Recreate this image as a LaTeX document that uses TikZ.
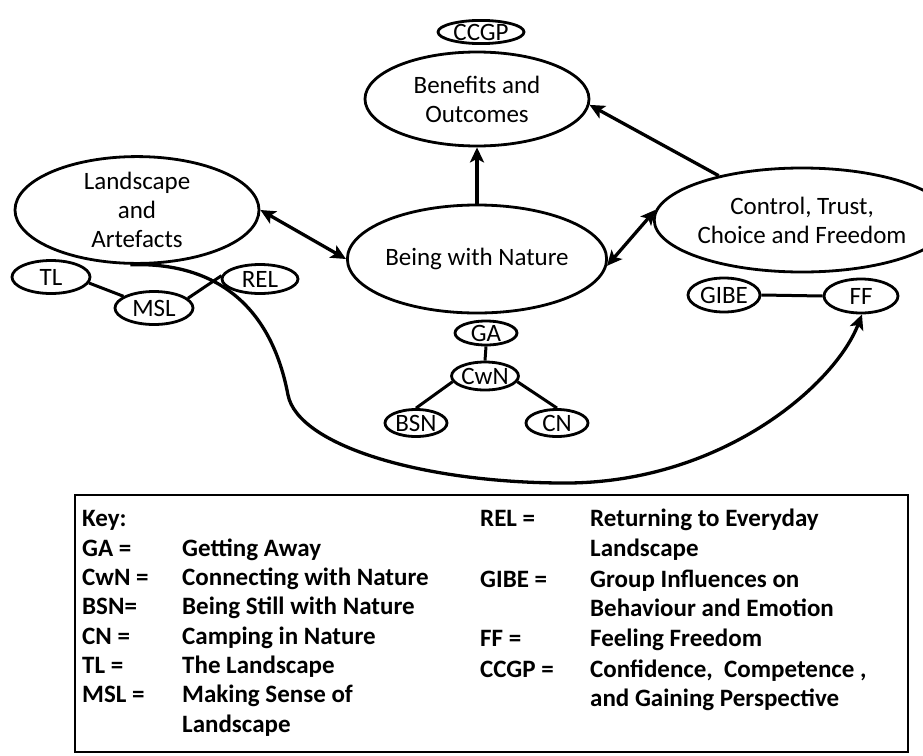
\documentclass[tikz,border=0pt]{standalone}
\usepackage{fontspec}
\setmainfont{Carlito}
\usetikzlibrary{shapes.geometric,arrows.meta}
\begin{document}
\begin{tikzpicture}[x=1pt,y=-1pt,
  every node/.style={font=\fontsize{25}{29}\selectfont},
  oval/.style={ellipse,draw,line width=2.8pt,inner sep=0pt,align=center},
  link/.style={line width=3pt},
  tip/.tip={Stealth[length=15pt,width=14pt,inset=3.5pt]},
  arr/.style={line width=3.3pt,-tip},
  darr/.style={line width=3.3pt,tip-tip},
  keytxt/.style={anchor=west,inner sep=0pt,text height=16pt,text depth=5pt,
    font=\fontsize{25}{29}\selectfont\bfseries}]
\useasboundingbox (0,0) rectangle (923,755);

% main concepts
\node[oval,minimum width=224pt,minimum height=94pt] (ben) at (477,99) {Benefits and\\Outcomes};
\node[oval,minimum width=86pt,minimum height=22pt] (ccgp) at (481,32) {CCGP};
\node[oval,minimum width=244pt,minimum height=104pt] (land) at (137,210) {Landscape\\and\\Artefacts};
\node[oval,minimum width=220pt,minimum height=108pt] (bwn) at (477,259) {Being with Nature};
\node[oval,minimum width=238pt,minimum height=104pt] (ctf) at (802,220) {Control, Trust,\\Choice and Freedom};

% sub-themes
\node[oval,minimum width=78pt,minimum height=33pt] (tl) at (51,277) {TL};
\node[oval,minimum width=78pt,minimum height=33pt] (msl) at (154,308) {MSL};
\node[oval,minimum width=76pt,minimum height=29pt] (rel) at (260,279) {REL};
\node[oval,minimum width=62pt,minimum height=24pt] (ga) at (486,333) {GA};
\node[oval,minimum width=60pt,minimum height=28pt] (cwn) at (485,376) {CwN};
\node[oval,minimum width=62pt,minimum height=27pt] (bsn) at (416,423) {BSN};
\node[oval,minimum width=62pt,minimum height=27pt] (cn) at (557,423) {CN};
\node[oval,minimum width=72pt,minimum height=34pt] (gibe) at (724,295) {GIBE};
\node[oval,minimum width=74pt,minimum height=34pt] (ff) at (861,296) {FF};

% relations between concepts
\draw[darr] (land.east) -- (bwn.west);
\draw[arr] (bwn.north) -- (ben.south);
\draw[arr] (ctf.152) -- (ben.-3);
\draw[darr] (bwn.-3) -- (ctf.176);

% links among sub-themes
\draw[link] (tl.-9) -- (msl.159);
\draw[link] (msl.16) -- (rel.175);
\draw[link] (ga.south) -- (cwn.north);
\draw[link] (cwn.190) -- (bsn.north);
\draw[link] (cwn.-10) -- (cn.north);
\draw[link] (gibe.east) -- (ff.west);

% long curve from the landscape to feeling freedom
\coordinate (c1) at (288,395);
\coordinate (c2) at (560,483);
\draw[arr] (land.-97) .. controls (210,262) and (270,300) .. (c1)
  .. controls (298,445) and (420,482) .. (c2)
  .. controls (720,485) and (835,385) .. (ff.-87);

% key box
\node[draw,line width=2pt,minimum width=833pt,minimum height=257pt,inner sep=0pt] (keybox) at (491.5,623.5) {};
\node[keytxt] (kh) at (82,521) {Key:};
\node[keytxt] (k1a) at (82,551) {GA =};
\node[keytxt] (k1b) at (182,551) {Getting Away};
\node[keytxt] (k2a) at (82,580) {CwN =};
\node[keytxt] (k2b) at (182,580) {Connecting with Nature};
\node[keytxt] (k3a) at (82,609) {BSN=};
\node[keytxt] (k3b) at (182,609) {Being Still with Nature};
\node[keytxt] (k4a) at (82,639) {CN =};
\node[keytxt] (k4b) at (182,639) {Camping in Nature};
\node[keytxt] (k5a) at (82,668) {TL =};
\node[keytxt] (k5b) at (182,668) {The Landscape};
\node[keytxt] (k6a) at (82,697) {MSL =};
\node[keytxt] (k6b) at (182,697) {Making Sense of};
\node[keytxt] (k6c) at (182,727) {Landscape};

\node[keytxt] (k7a) at (480,521) {REL =};
\node[keytxt] (k7b) at (590,521) {Returning to Everyday};
\node[keytxt] (k7c) at (590,551) {Landscape};
\node[keytxt] (k8a) at (480,582) {GIBE =};
\node[keytxt] (k8b) at (590,582) {Group Influences on};
\node[keytxt] (k8c) at (590,611) {Behaviour and Emotion};
\node[keytxt] (k9a) at (480,641) {FF =};
\node[keytxt] (k9b) at (590,641) {Feeling Freedom};
\node[keytxt] (k10a) at (480,672) {CCGP =};
\node[keytxt] (k10b) at (590,672) {Confidence,\ \ Competence\ ,};
\node[keytxt] (k10c) at (590,701) {and Gaining Perspective};
\end{tikzpicture}
\end{document}
